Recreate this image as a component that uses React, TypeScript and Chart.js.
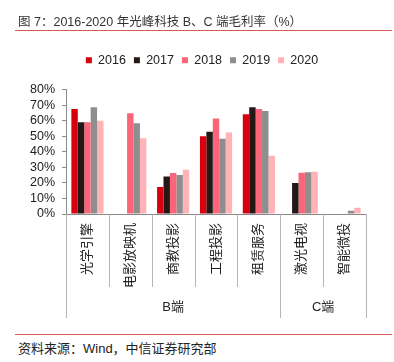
import React, { useEffect, useRef } from 'react';
import { Chart, registerables } from 'chart.js';

Chart.register(...registerables);

// ---- data ----
const categories = ['光学引擎', '电影放映机', '商教投影', '工程投影', '租赁服务', '激光电视', '智能微投'];
const groupLabels = ['B端', 'C端'];
const groupSizes = [5, 2];
const years = ['2016', '2017', '2018', '2019', '2020'];
const s2016 = [67.5, null, 17.3, 50.0, 64.1, null, null];
const s2017 = [59.0, null, 24.1, 52.8, 68.6, 19.9, null];
const s2018 = [59.0, 64.7, 26.3, 61.3, 67.5, 26.5, null];
const s2019 = [68.6, 58.3, 25.0, 48.3, 66.2, 26.9, 2.1];
const s2020 = [60.0, 48.7, 28.4, 52.3, 37.4, 27.1, 4.0];
const yMax = 80;
const yStep = 10;

// ---- styles ----
const colors = ['#d7000f', '#231815', '#fc6579', '#8e8e8e', '#ffb3b6'];
const FONT = '"Liberation Sans", Arial, "Noto Sans CJK SC", sans-serif';
const TEXT = '#222';
const AXIS = '#8a8a8a';
const SEP = '#b5b5b5';
const INNER_SEP_LEN = 73;
const GROUP_SEP_LEN = 104;
const GROUP_LABEL_OFFSET = 93;
const LEGEND_EXTRA = 13;

const legendSpacer = {
  id: 'legendSpacer',
  beforeLayout(chart: any) {
    const lg = chart.legend;
    if (lg && !lg.__patched) {
      const orig = lg.fit;
      lg.fit = function () {
        orig.call(this);
        this.height += LEGEND_EXTRA;
      };
      lg.__patched = true;
    }
  },
};

const groupPlugin = {
  id: 'groupSeparators',
  afterDraw(chart: any) {
    const x = chart.scales.x;
    const ctx = chart.ctx;
    const area = chart.chartArea;
    const n = categories.length;
    const step = x.getPixelForValue(1) - x.getPixelForValue(0);
    const boundary = (i: number) => x.getPixelForValue(0) + (i - 0.5) * step;
    const groupEdges = [0];
    groupSizes.forEach((s) => groupEdges.push(groupEdges[groupEdges.length - 1] + s));
    const bottom = area.bottom;
    ctx.save();
    ctx.strokeStyle = SEP;
    ctx.lineWidth = 1;
    for (let i = 0; i <= n; i++) {
      const px = Math.round(boundary(i)) + 0.5;
      const len = groupEdges.includes(i) ? GROUP_SEP_LEN : INNER_SEP_LEN;
      ctx.beginPath();
      ctx.moveTo(px, bottom);
      ctx.lineTo(px, bottom + len);
      ctx.stroke();
    }
    ctx.fillStyle = TEXT;
    ctx.font = '13px ' + FONT;
    ctx.textAlign = 'center';
    ctx.textBaseline = 'middle';
    groupLabels.forEach((label, gi) => {
      const cx = (boundary(groupEdges[gi]) + boundary(groupEdges[gi + 1])) / 2;
      ctx.fillText(label, cx, bottom + GROUP_LABEL_OFFSET);
    });
    ctx.restore();
  },
};

export default function App() {
  const ref = useRef<HTMLCanvasElement>(null);

  useEffect(() => {
    Chart.defaults.font.family = FONT;
    const series = [s2016, s2017, s2018, s2019, s2020];
    const chart = new Chart(ref.current as HTMLCanvasElement, {
      type: 'bar',
      data: {
        labels: categories,
        datasets: years.map((y, i) => ({
          label: y,
          data: series[i],
          backgroundColor: colors[i],
          borderWidth: 0,
          categoryPercentage: 0.75,
          barPercentage: 1.0,
        })),
      },
      options: {
        animation: false,
        responsive: true,
        maintainAspectRatio: false,
        layout: { padding: { top: 46, left: 10, right: 0, bottom: 0 } },
        plugins: {
          legend: {
            display: true,
            position: 'top',
            labels: {
              boxWidth: 6,
              boxHeight: 6,
              padding: 8,
              color: TEXT,
              font: { size: 12.5, family: FONT },
            },
          },
          tooltip: { enabled: false },
        },
        scales: {
          x: {
            grid: { display: false, drawTicks: false },
            border: { display: true, color: AXIS },
            ticks: {
              autoSkip: false,
              minRotation: 90,
              maxRotation: 90,
              padding: 9,
              color: TEXT,
              font: { size: 13, family: FONT },
            },
            afterFit: (s: any) => {
              s.height = 116;
            },
          },
          y: {
            min: 0,
            max: yMax,
            grid: { drawOnChartArea: false, drawTicks: true, tickLength: 4, color: AXIS },
            border: { display: true, color: AXIS },
            ticks: {
              stepSize: yStep,
              autoSkip: false,
              padding: 7,
              color: TEXT,
              font: { size: 12.5, family: FONT },
              callback: (v: any) => v + '%',
            },
            afterFit: (s: any) => {
              s.width = 56;
            },
          },
          yRight: {
            type: 'linear',
            position: 'right',
            display: true,
            min: 0,
            max: yMax,
            grid: { display: false, drawTicks: false },
            border: { display: false },
            ticks: { display: false },
            afterFit: (s: any) => {
              s.width = 28;
            },
          },
        },
      },
      plugins: [legendSpacer, groupPlugin],
    });
    return () => chart.destroy();
  }, []);

  return (
    <div
      style={{
        position: 'absolute',
        left: 0,
        top: 0,
        width: 394,
        height: 362,
        background: '#fff',
        fontFamily: FONT,
        overflow: 'hidden',
      }}
    >
      <div style={{ position: 'absolute', left: 0, top: 0, width: 394, height: 330 }}>
        <canvas ref={ref} />
      </div>
      <div
        style={{
          position: 'absolute',
          left: 18,
          top: 14,
          fontSize: 12.5,
          lineHeight: '17px',
          color: '#333',
          whiteSpace: 'nowrap',
        }}
      >
        图 7：2016-2020 年光峰科技 B、C 端毛利率（%）
      </div>
      <div style={{ position: 'absolute', left: 15, top: 30, width: 377, height: 1, background: '#d65a5a' }} />
      <div style={{ position: 'absolute', left: 15, top: 334, width: 377, height: 1, background: '#d65a5a' }} />
      <div
        style={{
          position: 'absolute',
          left: 18,
          top: 340,
          fontSize: 13,
          lineHeight: '18px',
          color: '#222',
          whiteSpace: 'nowrap',
        }}
      >
        资料来源：Wind，中信证券研究部
      </div>
    </div>
  );
}
